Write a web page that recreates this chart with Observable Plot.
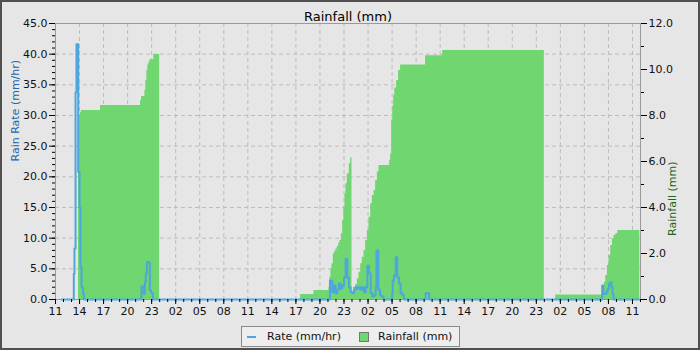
<!DOCTYPE html>
<html>
<head>
<meta charset="utf-8">
<script src="https://cdn.jsdelivr.net/npm/d3@7"></script>
<script src="https://cdn.jsdelivr.net/npm/@observablehq/plot@0.6"></script>
<style>
html, body { margin: 0; padding: 0; background: #e6e6e6; }
#wrap { position: relative; width: 700px; height: 350px; overflow: hidden; font-family: "DejaVu Sans", sans-serif; }
#border { position: absolute; left: 0; top: 0; width: 700px; height: 350px; box-sizing: border-box; border: 2px solid #505050; pointer-events: none; }
#legend { position: absolute; left: 241px; top: 326px; width: 219px; height: 21px; box-sizing: border-box; border: 1px solid #8a8a8a; background: #eeeeee; font-size: 11px; color: #111; }
#legend .sym { position: absolute; }
#legend .lab { position: absolute; top: 3px; white-space: nowrap; }
</style>
</head>
<body>
<div id="wrap">
  <div id="chart"></div>
  <div id="legend">
    <div class="sym" style="left:5px;top:9px;width:9px;height:2px;background:#4da6dc;"></div>
    <div class="lab" style="left:25px;">Rate (mm/hr)</div>
    <div class="sym" style="left:117px;top:5px;width:8px;height:8px;background:#70d670;border:1px solid #777;"></div>
    <div class="lab" style="left:136px;">Rainfall (mm)</div>
  </div>
  <div id="border"></div>
</div>
<script>
// ---- data ----
const rateSeries = [
  ["2024-05-10 11:45", 0], ["2024-05-10 13:17", 4.2], ["2024-05-10 13:22", 8.3],
  ["2024-05-10 13:30", 33.8], ["2024-05-10 13:37", 41.6], ["2024-05-10 13:50", 20.8],
  ["2024-05-10 14:00", 15.0], ["2024-05-10 14:07", 5.3], ["2024-05-10 14:15", 2.0],
  ["2024-05-10 14:25", 1.0], ["2024-05-10 14:32", 0],
  ["2024-05-10 21:44", 2.1], ["2024-05-10 22:01", 0.9], ["2024-05-10 22:09", 2.8],
  ["2024-05-10 22:16", 4.2], ["2024-05-10 22:24", 6.1], ["2024-05-10 22:39", 6.0],
  ["2024-05-10 22:46", 1.5], ["2024-05-10 22:54", 1.2], ["2024-05-10 23:01", 1.0],
  ["2024-05-10 23:09", 0],
  ["2024-05-11 21:15", 3.1], ["2024-05-11 21:32", 1.2], ["2024-05-11 21:45", 2.3],
  ["2024-05-11 21:57", 1.0], ["2024-05-11 22:10", 1.6], ["2024-05-11 22:22", 2.6],
  ["2024-05-11 22:35", 1.8], ["2024-05-11 22:47", 2.3], ["2024-05-11 23:00", 3.6],
  ["2024-05-11 23:12", 6.6], ["2024-05-11 23:25", 3.6], ["2024-05-11 23:37", 2.0],
  ["2024-05-11 23:50", 1.2],
  ["2024-05-12 00:02", 1.0], ["2024-05-12 00:15", 1.6], ["2024-05-12 00:27", 2.0],
  ["2024-05-12 00:40", 1.8], ["2024-05-12 00:52", 2.0], ["2024-05-12 01:05", 1.6],
  ["2024-05-12 01:17", 2.0], ["2024-05-12 01:30", 1.2], ["2024-05-12 01:42", 2.0],
  ["2024-05-12 01:55", 5.5], ["2024-05-12 02:07", 4.3], ["2024-05-12 02:20", 1.0],
  ["2024-05-12 02:32", 0.5], ["2024-05-12 02:45", 0.7], ["2024-05-12 02:57", 2.0],
  ["2024-05-12 03:03", 8.0], ["2024-05-12 03:17", 1.6], ["2024-05-12 03:30", 0.7],
  ["2024-05-12 03:42", 0.5], ["2024-05-12 03:55", 0],
  ["2024-05-12 05:00", 1.0], ["2024-05-12 05:05", 3.1], ["2024-05-12 05:14", 3.9],
  ["2024-05-12 05:27", 6.9], ["2024-05-12 05:39", 3.6], ["2024-05-12 05:52", 2.6],
  ["2024-05-12 06:04", 1.0], ["2024-05-12 06:17", 0.7], ["2024-05-12 06:29", 0],
  ["2024-05-12 09:11", 1.0], ["2024-05-12 09:37", 0],
  ["2024-05-13 07:13", 2.3], ["2024-05-13 07:22", 0.9], ["2024-05-13 07:45", 1.3],
  ["2024-05-13 07:55", 1.8], ["2024-05-13 08:05", 2.6], ["2024-05-13 08:15", 2.8],
  ["2024-05-13 08:22", 2.1], ["2024-05-13 08:30", 0.9], ["2024-05-13 08:38", 0],
  ["2024-05-13 11:55", 0]
];

const rainSeries = [
  ["2024-05-10 11:45", 0], ["2024-05-10 13:52", 7.2], ["2024-05-10 14:00", 8.0],
  ["2024-05-10 14:07", 8.14], ["2024-05-10 14:15", 8.22], ["2024-05-10 16:37", 8.43],
  ["2024-05-10 21:37", 8.65], ["2024-05-10 21:44", 8.83], ["2024-05-10 22:09", 9.09],
  ["2024-05-10 22:16", 9.52], ["2024-05-10 22:24", 9.96], ["2024-05-10 22:31", 10.2],
  ["2024-05-10 22:39", 10.32], ["2024-05-10 22:46", 10.42], ["2024-05-10 23:16", 10.65],
  ["2024-05-11 00:00", 0], ["2024-05-11 17:35", 0.22], ["2024-05-11 19:15", 0.39],
  ["2024-05-11 21:07", 0.53], ["2024-05-11 21:15", 0.97], ["2024-05-11 21:22", 1.33],
  ["2024-05-11 21:30", 1.55], ["2024-05-11 21:40", 1.99], ["2024-05-11 21:50", 2.1],
  ["2024-05-11 22:00", 2.2], ["2024-05-11 22:10", 2.3], ["2024-05-11 22:20", 2.45],
  ["2024-05-11 22:29", 2.56], ["2024-05-11 22:40", 2.86], ["2024-05-11 22:50", 3.43],
  ["2024-05-11 22:59", 4.01], ["2024-05-11 23:07", 4.59], ["2024-05-11 23:14", 5.03],
  ["2024-05-11 23:25", 5.46], ["2024-05-11 23:40", 5.9], ["2024-05-11 23:50", 6.16],
  ["2024-05-12 00:00", 0.25], ["2024-05-12 00:10", 0.53], ["2024-05-12 00:27", 0.65],
  ["2024-05-12 00:40", 0.9], ["2024-05-12 00:52", 1.18], ["2024-05-12 01:05", 1.55],
  ["2024-05-12 01:17", 1.84], ["2024-05-12 01:30", 2.13], ["2024-05-12 01:42", 2.57],
  ["2024-05-12 01:55", 3.0], ["2024-05-12 02:07", 3.58], ["2024-05-12 02:20", 4.16],
  ["2024-05-12 02:32", 4.52], ["2024-05-12 02:45", 4.74], ["2024-05-12 02:57", 5.17],
  ["2024-05-12 03:10", 5.54], ["2024-05-12 03:22", 5.83], ["2024-05-12 04:42", 6.04],
  ["2024-05-12 04:49", 6.33], ["2024-05-12 04:57", 7.8], ["2024-05-12 05:05", 8.4],
  ["2024-05-12 05:12", 8.87], ["2024-05-12 05:20", 9.2], ["2024-05-12 05:34", 9.52],
  ["2024-05-12 05:49", 9.96], ["2024-05-12 06:04", 10.2], ["2024-05-12 09:11", 10.6],
  ["2024-05-12 11:19", 10.83],
  ["2024-05-13 00:00", 0], ["2024-05-13 01:25", 0.2], ["2024-05-13 07:20", 0.53],
  ["2024-05-13 07:30", 0.75], ["2024-05-13 07:40", 1.04], ["2024-05-13 07:52", 1.48],
  ["2024-05-13 08:05", 1.91], ["2024-05-13 08:17", 2.35], ["2024-05-13 08:30", 2.64],
  ["2024-05-13 08:42", 2.78], ["2024-05-13 08:55", 2.86], ["2024-05-13 09:10", 3.0],
  ["2024-05-13 11:55", 3.0]
];

const leftTicks = [0, 5, 10, 15, 20, 25, 30, 35, 40, 45];
const rightTicks = [0, 2, 4, 6, 8, 10, 12];
const xStart = "2024-05-10 11:00";
const xEnd = "2024-05-13 12:00";
const titleText = "Rainfall (mm)";
const leftLabel = "Rain Rate (mm/hr)";
const rightLabel = "Rainfall (mm)";

// ---- build ----
const parse = d3.utcParse("%Y-%m-%d %H:%M");
const rate = rateSeries.map(([t, v]) => ({t: parse(t), v}));
const rain = rainSeries.map(([t, v]) => ({t: parse(t), v}));
const start = parse(xStart), end = parse(xEnd);
const ratio = 45 / 12;
const majorTicks = d3.utcHour.range(start, new Date(+end + 1), 3);
const minorTicks = d3.utcHour.range(start, new Date(+end + 1));
const leftMinor = d3.range(0, 46, 1);
const rightMinor = d3.range(0, 12.5, 1).map(v => v * ratio);
const fmtH = d3.utcFormat("%H");

const chart = Plot.plot({
  width: 700, height: 350,
  marginTop: 23, marginBottom: 51, marginLeft: 55, marginRight: 60,
  style: {background: "#e6e6e6", fontFamily: "DejaVu Sans", fontSize: "11px", color: "#000", overflow: "visible"},
  x: {type: "utc", domain: [start, end], axis: null},
  y: {domain: [0, 45], axis: null},
  marks: [
    Plot.ruleY(leftTicks.filter(v => v > 0 && v < 45), {stroke: "#bcbcbc", strokeDasharray: "4,3"}),
    Plot.ruleX(majorTicks.filter(t => t > start && t < end), {stroke: "#bcbcbc", strokeDasharray: "4,3"}),
    Plot.areaY(rain, {x: "t", y: d => d.v * ratio, curve: "step-after", fill: "#70d670"}),
    Plot.line(rate, {x: "t", y: "v", curve: "step-after", stroke: "#4da6dc", strokeWidth: 2}),
    Plot.frame({stroke: "#999"}),
    Plot.axisY({anchor: "left", ticks: leftMinor, tickSize: 3, tickFormat: () => "", label: null, stroke: "#000"}),
    Plot.axisY({anchor: "left", ticks: leftTicks, tickSize: 6, tickPadding: 2, tickFormat: d => d.toFixed(1), label: null, stroke: "#000", fill: "#111"}),
    Plot.axisY({anchor: "right", ticks: rightMinor, tickSize: 3, tickFormat: () => "", label: null, stroke: "#000"}),
    Plot.axisY({anchor: "right", ticks: rightTicks.map(v => v * ratio), tickSize: 6, tickPadding: 2, tickFormat: d => (d / ratio).toFixed(1), label: null, stroke: "#000", fill: "#111"}),
    Plot.axisX({anchor: "bottom", ticks: minorTicks, tickSize: 3, tickFormat: () => "", label: null, stroke: "#000"}),
    Plot.axisX({anchor: "bottom", ticks: majorTicks, tickSize: 5, tickPadding: 3, tickFormat: fmtH, label: null, stroke: "#000", fill: "#111"}),
    Plot.text([titleText], {frameAnchor: "top", dy: -12, fontSize: 13, fill: "#000"}),
    Plot.text([leftLabel], {frameAnchor: "left", rotate: -90, dx: -40, fontSize: 11, fill: "#2266aa"}),
    Plot.text([rightLabel], {frameAnchor: "right", rotate: -90, dx: 32, fontSize: 11, fill: "#1a661a"})
  ]
});
document.getElementById("chart").appendChild(chart);
</script>
</body>
</html>
